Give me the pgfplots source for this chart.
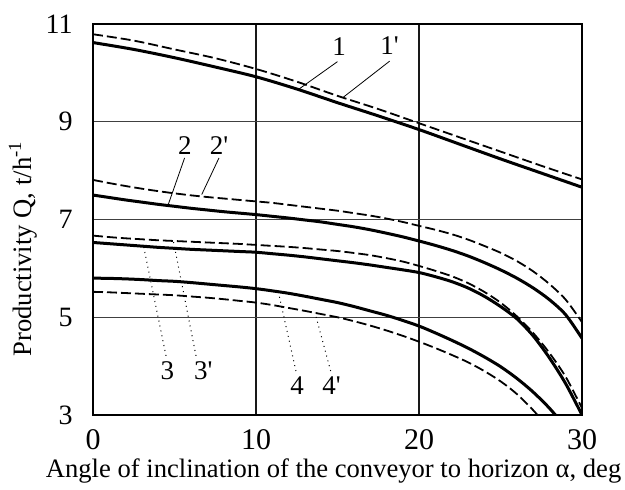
\documentclass[border=0pt]{standalone}
\usepackage{fontspec}
\setmainfont{Liberation Serif}
\usepackage{pgfplots}
\pgfplotsset{compat=1.18}
\begin{document}
\begin{tikzpicture}
\begin{axis}[
 scale only axis, width=244.5pt, height=195.5pt,
 xmin=0, xmax=30, ymin=3, ymax=11,
 xtick={0,10,20,30}, ytick={3,5,7,9,11},
 xmajorgrids, ymajorgrids,
 x grid style={black!90, line width=0.85pt},
 y grid style={black!75, line width=0.6pt},
 axis line style={line width=0.9pt},
 major tick length=0pt,
 /pgf/number format/assume math mode=true,
 xticklabel style={font=\fontsize{15}{17}\selectfont, anchor=north, inner sep=0pt, yshift=-7pt},
 yticklabel style={font=\fontsize{14}{16}\selectfont, anchor=east, inner sep=0pt, xshift=-10pt},
 xlabel={Angle of inclination of the conveyor to horizon α, deg},
 ylabel={Productivity Q, t/h\textsuperscript{-1}},
 label style={font=\fontsize{13.3}{15}\selectfont},
 xlabel style={at={(axis description cs:0.492,-0.143)}, anchor=center},
 ylabel style={at={(axis description cs:-0.143,0.425)}, anchor=center},
 clip=true,
]
% curve 1
\addplot[black, line width=1.5pt, smooth] coordinates {
(0,10.62) (2.5,10.48) (5,10.31) (7.5,10.12) (10,9.92) (12.5,9.67) (15,9.39) (17.5,9.12) (20,8.84) (22.5,8.54) (25,8.24) (27.5,7.95) (30,7.66)};
% curve 1'
\addplot[black, line width=0.9pt, smooth, dash pattern=on 5pt off 2pt] coordinates {
(0,10.79) (2.5,10.66) (5,10.48) (7.5,10.30) (10,10.08) (12.5,9.82) (15,9.53) (17.5,9.26) (20,8.97) (22.5,8.68) (25,8.39) (27.5,8.10) (30,7.82)};
% curve 2
\addplot[black, line width=1.5pt, smooth] coordinates {
(0,7.50) (1,7.45) (2,7.40) (3,7.355) (4,7.31) (5,7.27) (6,7.23) (7,7.195) (8,7.16) (9,7.13) (10,7.10) (11,7.065) (12,7.03) (13,6.99) (14,6.95) (15,6.90) (16,6.85) (17,6.79) (18,6.72) (19,6.645) (20,6.56) (21,6.47) (22,6.37) (23,6.255) (24,6.12) (25,5.97) (26,5.80) (27,5.60) (28,5.36) (29,5.05) (30,4.57)};
% curve 2'
\addplot[black, line width=0.9pt, smooth, dash pattern=on 5pt off 2pt] coordinates {
(0,7.81) (1,7.745) (2,7.685) (3,7.63) (4,7.58) (5,7.535) (6,7.495) (7,7.46) (8,7.43) (9,7.40) (10,7.37) (11,7.34) (12,7.30) (13,7.26) (14,7.22) (15,7.18) (16,7.13) (17,7.08) (18,7.02) (19,6.95) (20,6.87) (21,6.79) (22,6.70) (23,6.59) (24,6.46) (25,6.32) (26,6.15) (27,5.94) (28,5.68) (29,5.36) (30,4.90)};
% curve 3
\addplot[black, line width=1.5pt, smooth] coordinates {
(0,6.53) (1,6.505) (2,6.48) (3,6.455) (4,6.43) (5,6.41) (6,6.39) (7,6.375) (8,6.36) (9,6.345) (10,6.33) (11,6.30) (12,6.27) (13,6.235) (14,6.195) (15,6.155) (16,6.115) (17,6.07) (18,6.02) (19,5.97) (20,5.915) (21,5.83) (22,5.73) (23,5.60) (24,5.43) (25,5.22) (26,4.97) (27,4.62) (28,4.17) (29,3.64) (30,3.00)};
% curve 3'
\addplot[black, line width=0.9pt, smooth, dash pattern=on 5pt off 2pt] coordinates {
(0,6.67) (1,6.64) (2,6.615) (3,6.595) (4,6.575) (5,6.56) (6,6.545) (7,6.53) (8,6.515) (9,6.50) (10,6.48) (11,6.46) (12,6.44) (13,6.415) (14,6.385) (15,6.355) (16,6.315) (17,6.27) (18,6.21) (19,6.14) (20,6.05) (21,5.95) (22,5.84) (23,5.70) (24,5.52) (25,5.30) (26,5.02) (27,4.68) (28,4.27) (29,3.78) (30,3.14)};
% curve 4
\addplot[black, line width=1.5pt, smooth] coordinates {
(0,5.80) (1,5.795) (2,5.785) (3,5.77) (4,5.75) (5,5.735) (6,5.71) (7,5.68) (8,5.65) (9,5.62) (10,5.585) (11,5.54) (12,5.49) (13,5.43) (14,5.365) (15,5.30) (16,5.22) (17,5.13) (18,5.04) (19,4.935) (20,4.82) (21,4.68) (22,4.53) (23,4.37) (24,4.19) (25,3.99) (26,3.75) (27,3.47) (28,3.14) (29,2.75)};
% curve 4'
\addplot[black, line width=0.9pt, smooth, dash pattern=on 5pt off 2pt] coordinates {
(0,5.52) (1,5.51) (2,5.495) (3,5.48) (4,5.465) (5,5.45) (6,5.425) (7,5.40) (8,5.37) (9,5.335) (10,5.30) (11,5.25) (12,5.19) (13,5.13) (14,5.065) (15,5.00) (16,4.92) (17,4.83) (18,4.73) (19,4.62) (20,4.50) (21,4.37) (22,4.23) (23,4.08) (24,3.90) (25,3.69) (26,3.43) (27,3.10) (28,2.72)};
% annotations
\begin{scope}[font=\fontsize{13.5}{15}\selectfont]
\node at (axis cs:15.1,10.54) {1};
\node at (axis cs:18.2,10.55) {1\textquotesingle};
\node at (axis cs:5.64,8.52) {2};
\node at (axis cs:7.73,8.52) {2\textquotesingle};
\node at (axis cs:4.56,3.90) {3};
\node at (axis cs:6.77,3.90) {3\textquotesingle};
\node at (axis cs:12.53,3.60) {4};
\node at (axis cs:14.64,3.60) {4\textquotesingle};
\end{scope}
\draw[line width=0.4pt] (axis cs:15.0,10.23) -- (axis cs:12.6,9.66);
\draw[line width=0.4pt] (axis cs:18.2,10.24) -- (axis cs:15.35,9.50);
\draw[line width=0.4pt] (axis cs:5.62,8.26) -- (axis cs:4.6,7.29);
\draw[line width=0.4pt] (axis cs:7.73,8.26) -- (axis cs:6.67,7.51);
\draw[line width=0.5pt, dotted] (axis cs:4.48,4.21) -- (axis cs:3.1,6.46);
\draw[line width=0.5pt, dotted] (axis cs:6.32,4.21) -- (axis cs:4.93,6.56);
\draw[line width=0.5pt, dotted] (axis cs:12.45,3.90) -- (axis cs:11.37,5.52);
\draw[line width=0.5pt, dotted] (axis cs:14.58,3.90) -- (axis cs:13.62,5.09);
\end{axis}
\pgfresetboundingbox
\path (-46.5pt,-37.5pt) rectangle (266pt,207.5pt);
\end{tikzpicture}
\end{document}
